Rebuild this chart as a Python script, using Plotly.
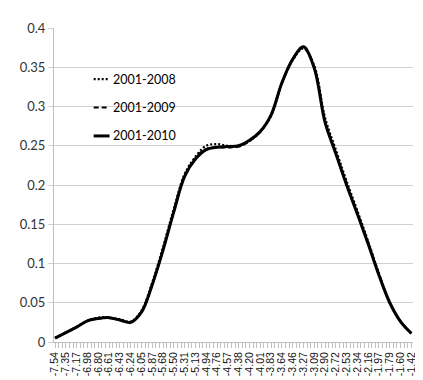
import plotly.graph_objects as go

x_labels = ["-7.54", "-7.35", "-7.17", "-6.98", "-6.80", "-6.61", "-6.43", "-6.24", "-6.05",
            "-5.87", "-5.68", "-5.50", "-5.31", "-5.13", "-4.94", "-4.76", "-4.57", "-4.38",
            "-4.20", "-4.01", "-3.83", "-3.64", "-3.46", "-3.27", "-3.09", "-2.90", "-2.72",
            "-2.53", "-2.34", "-2.16", "-1.97", "-1.79", "-1.60", "-1.42"]

y_2008 = [0.005, 0.012, 0.019, 0.027, 0.031, 0.031, 0.029, 0.026, 0.040, 0.076, 0.121, 0.170,
          0.214, 0.236, 0.250, 0.252, 0.250, 0.250, 0.256, 0.268, 0.288, 0.329, 0.359, 0.374,
          0.352, 0.286, 0.245, 0.205, 0.167, 0.128, 0.087, 0.050, 0.026, 0.011]
y_2009 = [0.005, 0.012, 0.019, 0.027, 0.030, 0.031, 0.028, 0.025, 0.038, 0.073, 0.118, 0.167,
          0.212, 0.234, 0.246, 0.248, 0.248, 0.249, 0.256, 0.268, 0.289, 0.330, 0.360, 0.375,
          0.350, 0.282, 0.241, 0.202, 0.164, 0.126, 0.086, 0.050, 0.026, 0.011]
y_2010 = [0.005, 0.012, 0.019, 0.027, 0.030, 0.031, 0.028, 0.025, 0.038, 0.073, 0.117, 0.166,
          0.211, 0.233, 0.245, 0.248, 0.249, 0.250, 0.257, 0.268, 0.289, 0.330, 0.360, 0.376,
          0.349, 0.280, 0.240, 0.200, 0.163, 0.125, 0.085, 0.050, 0.026, 0.011]

series = [("2001-2008", y_2008, "2px,2px", 2.2),
          ("2001-2009", y_2009, "5px,3px", 2.2),
          ("2001-2010", y_2010, "solid", 3)]

xs = list(range(len(x_labels)))

fig = go.Figure()
for name, ys, dash, w in series:
    fig.add_trace(go.Scatter(x=xs, y=ys, name=name, mode="lines",
                             line=dict(color="black", width=w, dash=dash,
                                       shape="spline", smoothing=1.0)))

# manual legend (positions in pixels of the 423x380 canvas, converted to paper)
PL, PR, PT, PB = 43, 405, 17, 337
legend_y = [69, 98, 127]
for (name, ys, dash, w), py in zip(series, legend_y):
    yp = (PB - py) / (PB - PT)
    fig.add_annotation(text=name, xref="paper", yref="paper", showarrow=False,
                       x=(100 - PL) / (PR - PL), y=yp, xanchor="left", yanchor="middle",
                       font=dict(family="Lato, Open Sans, sans-serif", size=12.5, color="black"))
    fig.add_shape(type="line", xref="paper", yref="paper",
                  x0=(83 - PL) / (PR - PL), x1=(99 - PL) / (PR - PL),
                  y0=yp, y1=yp,
                  line=dict(color="black", width=w, dash=dash))

fig.update_layout(
    width=423, height=380,
    margin=dict(l=PL, r=423 - PR, t=PT, b=380 - PB),
    paper_bgcolor="white", plot_bgcolor="white",
    showlegend=False,
    xaxis=dict(range=[-0.1, 33.15], tickmode="array", tickvals=xs, ticktext=x_labels,
               tickangle=-90, showgrid=False, zeroline=False,
               showline=True, linecolor="#bfbfbf", linewidth=1,
               ticks="outside", ticklen=5, tickcolor="#bfbfbf",
               minor=dict(dtick=1/3, tick0=0, ticks="outside", ticklen=5, tickcolor="#bfbfbf"),
               tickfont=dict(family="Liberation Sans, Arial, sans-serif", size=10.5, color="#111")),
    yaxis=dict(range=[0, 0.4], dtick=0.05, tickformat="~g",
               showgrid=True, gridcolor="#d0d0d0", gridwidth=1,
               zeroline=False, showline=True, linecolor="#bfbfbf", linewidth=1,
               ticks="outside", ticklen=5, tickcolor="#d0d0d0",
               tickfont=dict(family="Lato, Open Sans, sans-serif", size=13, color="#333")),
)

fig.write_html("out.html")
